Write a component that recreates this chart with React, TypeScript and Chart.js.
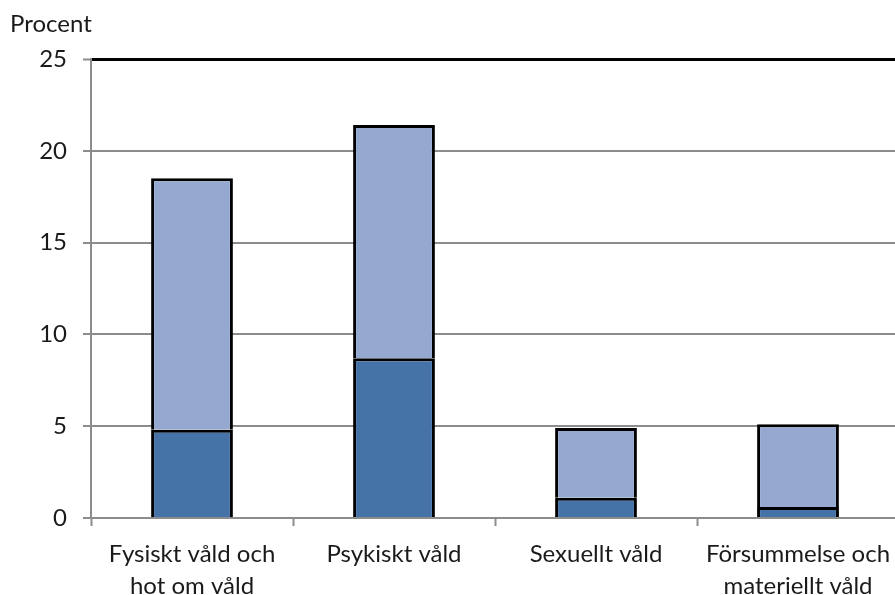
import React, { useEffect, useRef } from "react";
import { Chart, registerables } from "chart.js";

Chart.register(...registerables);

const categories: string[][] = [
  ["Fysiskt våld och", "hot om våld"],
  ["Psykiskt våld"],
  ["Sexuellt våld"],
  ["Försummelse och", "materiellt våld"],
];
const darkValues = [4.8, 8.7, 1.1, 0.6];
const lightValues = [13.7, 12.7, 3.8, 4.5];
const yTitle = "Procent";
const yMin = 0;
const yMax = 25;
const yStep = 5;

const FONT = "Lato, 'Open Sans', sans-serif";

export default function App() {
  const ref = useRef<HTMLCanvasElement | null>(null);
  useEffect(() => {
    if (!ref.current) return;
    const titlePlugin = {
      id: "ytitle",
      afterDraw(chart: any) {
        const ctx = chart.ctx;
        ctx.save();
        ctx.font = `24px ${FONT}`;
        ctx.fillStyle = "#1a1a1a";
        ctx.textAlign = "left";
        ctx.textBaseline = "alphabetic";
        ctx.fillText(yTitle, 10, 32);
        ctx.restore();
      },
    };
    const chart = new Chart(ref.current, {
      type: "bar",
      data: {
        labels: categories,
        datasets: [
          {
            label: "A",
            data: darkValues,
            backgroundColor: "#4572A7",
            borderColor: "#000000",
            borderWidth: 3,
            borderSkipped: "bottom",
            categoryPercentage: 1,
            barPercentage: 0.405,
          },
          {
            label: "B",
            data: lightValues,
            backgroundColor: "#95A9D0",
            borderColor: "#000000",
            borderWidth: 3,
            borderSkipped: "bottom",
            categoryPercentage: 1,
            barPercentage: 0.405,
          },
        ],
      },
      options: {
        animation: false,
        responsive: false,
        devicePixelRatio: 1,
        layout: { padding: { top: 59, left: 0, right: 6, bottom: 0 } },
        plugins: { legend: { display: false }, tooltip: { enabled: false } },
        scales: {
          x: {
            stacked: true,
            grid: {
              offset: true,
              drawOnChartArea: false,
              drawTicks: true,
              tickLength: 8,
              tickColor: "#8c8c8c",
              tickWidth: 2,
            },
            border: { color: "#8c8c8c", width: 2 },
            ticks: {
              color: "#1a1a1a",
              font: { family: FONT, size: 24, lineHeight: "32px" },
              padding: 12,
              maxRotation: 0,
              autoSkip: false,
            },
            afterFit(scale: any) {
              scale.height = 77;
            },
          },
          y: {
            stacked: true,
            min: yMin,
            max: yMax,
            ticks: {
              stepSize: yStep,
              color: "#1a1a1a",
              font: { family: FONT, size: 24 },
              padding: 16,
            },
            grid: {
              color: (c: any) => (c.tick && c.tick.value === yMax ? "#000000" : "#8c8c8c"),
              lineWidth: (c: any) => (c.tick && c.tick.value === yMax ? 3 : 2),
              tickColor: "#8c8c8c",
              tickLength: 8,
              tickWidth: 2,
            },
            border: { color: "#8c8c8c", width: 2 },
            afterFit(scale: any) {
              scale.width = 91;
            },
          },
        },
      },
      plugins: [titlePlugin],
    } as any);
    return () => chart.destroy();
  }, []);
  return (
    <div
      style={{
        position: "fixed",
        left: 0,
        top: 0,
        width: 895,
        height: 595,
        overflow: "hidden",
        background: "#fff",
      }}
    >
      <canvas ref={ref} width={905} height={595} style={{ width: 905, height: 595, display: "block" }} />
    </div>
  );
}
